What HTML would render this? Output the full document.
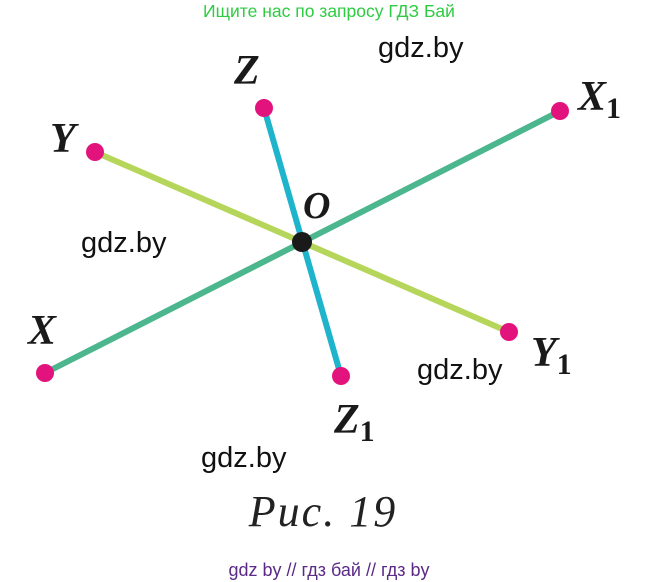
<!DOCTYPE html>
<html><head><meta charset="utf-8"><style>
html,body{margin:0;padding:0;background:#fff;}
svg{display:block;}
</style></head><body>
<svg width="658" height="582" viewBox="0 0 658 582" xmlns="http://www.w3.org/2000/svg">
<text x="329" y="17" text-anchor="middle" font-family="Liberation Sans, sans-serif" font-size="17.5" fill="#2ecc40">Ищите нас по запросу ГДЗ Бай</text>
<g stroke-width="6" stroke-linecap="round">
<line x1="45" y1="373" x2="560" y2="111" stroke="#4cb68e"/>
<line x1="95" y1="152" x2="509" y2="332" stroke="#b5d65a"/>
<line x1="264" y1="108" x2="341" y2="376" stroke="#1eb4cc"/>
</g>
<g fill="#e3137d">
<circle cx="45" cy="373" r="9"/><circle cx="560" cy="111" r="9"/>
<circle cx="95" cy="152" r="9"/><circle cx="509" cy="332" r="9"/>
<circle cx="264" cy="108" r="9"/><circle cx="341" cy="376" r="9"/>
</g>
<circle cx="302" cy="242" r="10" fill="#1a1a1a"/>
<g font-family="Liberation Serif, serif" font-style="italic" font-weight="bold" font-size="42" fill="#1a1a1a">
<text x="234" y="84">Z</text>
<text x="50" y="152">Y</text>
<text x="28" y="344">X</text>
<text x="578" y="110">X<tspan font-size="30" font-style="normal" dy="8">1</tspan></text>
<text x="531" y="366">Y<tspan font-size="30" font-style="normal" dy="8">1</tspan></text>
<text x="334" y="433">Z<tspan font-size="30" font-style="normal" dy="8">1</tspan></text>
<text x="303" y="218" font-size="38">O</text>
</g>
<g font-family="Liberation Sans, sans-serif" font-size="29" fill="#111">
<text x="378" y="57">gdz.by</text>
<text x="81" y="252">gdz.by</text>
<text x="417" y="379">gdz.by</text>
<text x="201" y="467">gdz.by</text>
</g>
<text x="323" y="526" text-anchor="middle" font-family="Liberation Serif, serif" font-style="italic" font-size="44" letter-spacing="2" fill="#222">Рис. 19</text>
<text x="329" y="576" text-anchor="middle" font-family="Liberation Sans, sans-serif" font-size="18" fill="#5b2a86">gdz by  //  гдз бай  //  гдз by</text>
</svg>
</body></html>
